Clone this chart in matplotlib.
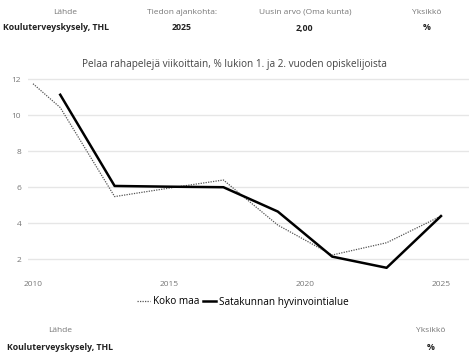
import matplotlib.pyplot as plt

plt.rcParams['font.family'] = ['Open Sans', 'DejaVu Sans']

years_maa = [2010, 2011, 2013, 2015, 2017, 2019, 2021, 2023, 2025]
koko_maa = [11.74, 10.42, 5.48, 5.95, 6.4, 3.9, 2.24, 2.92, 4.4]
years_sata = [2011, 2013, 2015, 2017, 2019, 2021, 2023, 2025]
satakunta = [11.13, 6.07, 6.03, 6.0, 4.65, 2.15, 1.53, 4.4]

xticks = [2010, 2015, 2020, 2025]
yticks = [2, 4, 6, 8, 10, 12]

fig = plt.figure(figsize=(4.69, 3.56), dpi=100)
ax = fig.add_axes([0.06, 0.2275, 0.94, 0.556])

ax.plot(years_maa, koko_maa, color='#555555', lw=0.9, ls=(0, (1, 1)), label='Koko maa')
ax.plot(years_sata, satakunta, color='black', lw=1.8, label='Satakunnan hyvinvointialue')

ax.set_xlim(2009.82, 2026.03)
ax.set_ylim(1.13, 12.11)
ax.set_xticks(xticks)
ax.set_yticks(yticks)
ax.grid(axis='y', color='#e6e6e6', lw=1)
ax.set_axisbelow(True)
for s in ax.spines.values():
    s.set_visible(False)
ax.tick_params(length=0, labelsize=6, labelcolor='#777777')
ax.tick_params(axis='x', pad=4)
ax.tick_params(axis='y', pad=5)

fig.text(0.5, 1 - 64 / 356, 'Pelaa rahapelejä viikoittain, % lukion 1. ja 2. vuoden opiskelijoista',
         ha='center', va='center', fontsize=7.2, color='#444444')

leg = fig.legend(loc='center', bbox_to_anchor=(243 / 469, 1 - 302 / 356), ncol=2, frameon=False,
                 fontsize=7.2, handlelength=1.3, handletextpad=0.3, columnspacing=0.3)

# header
heads = [(65, 56, 'Lähde', 'Kouluterveyskysely, THL'),
         (182, 182, 'Tiedon ajankohta:', '2025'),
         (305, 304, 'Uusin arvo (Oma kunta)', '2,00'),
         (427, 427, 'Yksikkö', '%')]
for x1, x2, lab, val in heads:
    fig.text(x1 / 469, 1 - 12 / 356, lab, ha='center', va='center', fontsize=6, color='#777777')
    fig.text(x2 / 469, 1 - 28 / 356, val, ha='center', va='center', fontsize=6.3, fontweight='bold', color='#222222')

# footer
for x, lab, val in [(60, 'Lähde', 'Kouluterveyskysely, THL'), (431, 'Yksikkö', '%')]:
    fig.text(x / 469, 1 - 330 / 356, lab, ha='center', va='center', fontsize=6, color='#777777')
    fig.text(x / 469, 1 - 348 / 356, val, ha='center', va='center', fontsize=6.3, fontweight='bold', color='#222222')

fig.savefig('out.png', dpi=100, facecolor='white')
